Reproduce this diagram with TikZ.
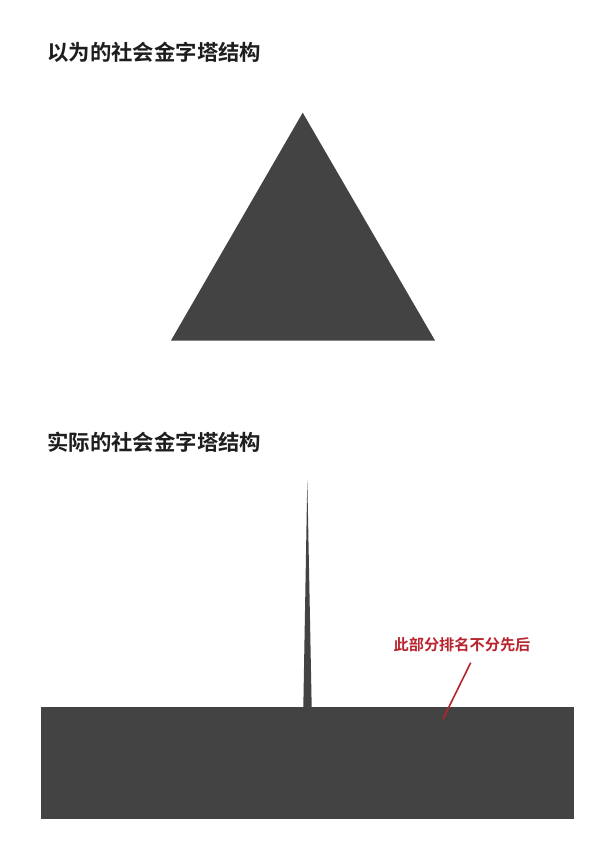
\documentclass[tikz,border=0pt]{standalone}
\usepackage{fontspec}
\newfontfamily\cjk{Noto Sans CJK SC Bold}
\definecolor{darkfill}{HTML}{434343}
\definecolor{note}{HTML}{B8242E}
\definecolor{ink}{HTML}{1E1E1E}
\begin{document}
\begin{tikzpicture}[x=1pt,y=-1pt,
  title/.style={anchor=west,inner sep=0pt,font=\cjk\fontsize{21.4}{21.4}\selectfont,text=ink},
  notetext/.style={anchor=center,inner sep=0pt,font=\cjk\fontsize{15.2}{15.2}\selectfont,text=note}]
\useasboundingbox[fill=white] (0,0) rectangle (600,848);
\node[title] (t1) at (47,52) {以为的社会金字塔结构};
\node[title] (t2) at (47,442) {实际的社会金字塔结构};
\fill[darkfill] (302.7,112.7) -- (435,340.5) -- (171,340.5) -- cycle;
\fill[darkfill] (307.3,480) -- (311.7,708) -- (303.3,708) -- cycle;
\fill[darkfill] (40.5,707) rectangle (574,819);
\node[notetext] (n) at (462,645) {此部分排名不分先后};
\coordinate (lt) at (470.7,662.7);
\coordinate (lb) at (443,719);
\draw[note,line width=1.6pt] (lt) -- (lb);
\end{tikzpicture}
\end{document}
